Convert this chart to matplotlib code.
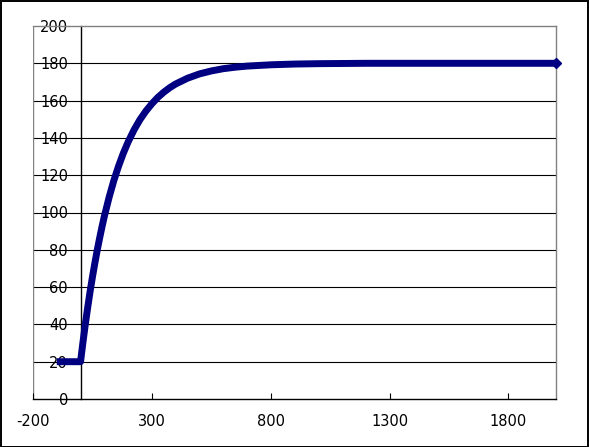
import matplotlib
matplotlib.use("Agg")
import matplotlib.pyplot as plt
from matplotlib.patches import Rectangle

# values
x_vals = [-100, -50, 0, 10, 20, 30, 40, 50, 60, 70, 80, 90, 100, 120, 140, 160,
          180, 200, 225, 250, 275, 300, 325, 350, 375, 400, 450, 500, 550, 600,
          650, 700, 800, 900, 1000, 1200, 1400, 1600, 1800, 2000]
y_vals = [20, 20, 20, 30.3, 40.0, 49.0, 57.5, 65.4, 72.7, 79.7, 86.1, 92.2, 97.9,
          108.1, 117.1, 124.9, 131.8, 137.8, 144.3, 149.8, 154.4, 158.3, 161.7,
          164.5, 166.9, 168.9, 172.0, 174.3, 175.9, 177.1, 177.9, 178.5, 179.2,
          179.6, 179.8, 180, 180, 180, 180, 180]
x_ticks = [-200, 300, 800, 1300, 1800]
y_ticks = [0, 20, 40, 60, 80, 100, 120, 140, 160, 180, 200]

plt.rcParams['axes.unicode_minus'] = False
plt.rcParams['font.family'] = 'DejaVu Sans'

fig = plt.figure(figsize=(5.89, 4.47), dpi=100)
ax = fig.add_axes([33 / 589, 48 / 447, 523 / 589, 373 / 447])

navy = '#000080'
grey = '#808080'

# horizontal gridlines
for yv in y_ticks[1:-1]:
    ax.axhline(yv, color='black', lw=0.8, zorder=1)

# series
ax.plot(x_vals, y_vals, color=navy, lw=5.0, solid_capstyle='butt',
        solid_joinstyle='round', zorder=3)
ax.plot(x_vals[-1], y_vals[-1], marker='D', ms=5, color=navy, clip_on=False, zorder=3)

ax.set_xlim(-200, 2000)
ax.set_ylim(0, 200)
ax.set_xticks(x_ticks)
ax.set_yticks(y_ticks)

# plot area border grey, axes black
for s in ['top', 'right']:
    ax.spines[s].set_color(grey)
    ax.spines[s].set_linewidth(1.0)
ax.spines['left'].set_position(('data', 0))
ax.spines['left'].set_color('black')
ax.spines['left'].set_linewidth(1.0)
ax.spines['left'].set_zorder(2)
ax.spines['bottom'].set_color('black')
ax.spines['bottom'].set_linewidth(1.0)
ax.axvline(-200, color=grey, lw=1.0, zorder=1)

ax.tick_params(axis='x', direction='in', length=4, width=0.8, pad=11, labelsize=10.5)
ax.tick_params(axis='y', direction='out', length=0, pad=9, labelsize=10.5)

# outer chart frame
fig.patches.append(Rectangle((0.001, 0.001), 0.997, 0.997, transform=fig.transFigure,
                             fill=False, edgecolor='black', lw=1.4))

fig.savefig('out.png', dpi=100)
